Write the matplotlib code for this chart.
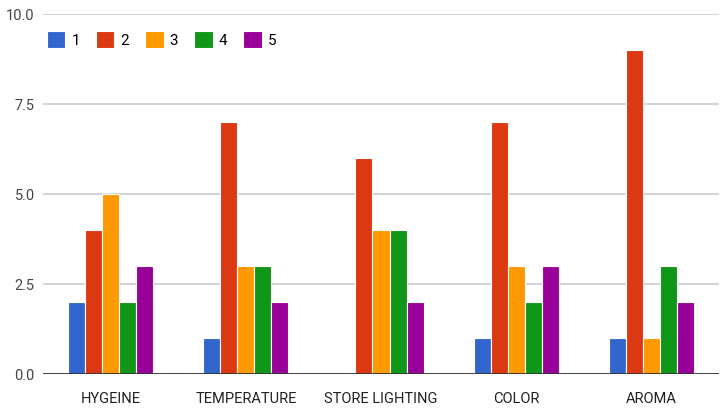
import matplotlib as mpl
import matplotlib.pyplot as plt
import numpy as np

mpl.use('Agg')
plt.rcParams['font.family'] = ['Liberation Sans Narrow', 'Roboto', 'DejaVu Sans']

categories = ["HYGEINE", "TEMPERATURE", "STORE LIGHTING", "COLOR", "AROMA"]
series_names = ["1", "2", "3", "4", "5"]
s1 = [2, 1, 0, 1, 1]
s2 = [4, 7, 6, 7, 9]
s3 = [5, 3, 4, 3, 1]
s4 = [2, 3, 4, 2, 3]
s5 = [3, 2, 2, 3, 2]
yticks = [0.0, 2.5, 5.0, 7.5, 10.0]

colors = ["#3366cc", "#dc3912", "#ff9900", "#109618", "#990099"]


def main():
    fig = plt.figure(figsize=(7.21, 4.14), dpi=100)
    ax = fig.add_axes([43 / 721, 39 / 414, 676 / 721, 360 / 414])

    x = np.arange(len(categories))
    step = 0.126
    for i, (vals, col) in enumerate(zip([s1, s2, s3, s4, s5], colors)):
        off = (i - 2) * step
        ax.bar(x + off, vals, width=step, color=col, edgecolor="white",
               linewidth=0.8, zorder=3, label=series_names[i])

    ax.set_xlim(-0.5, len(categories) - 0.5)
    ax.set_ylim(0, 10)
    ax.set_yticks(yticks)
    ax.set_yticklabels(["%.1f" % v for v in yticks], fontsize=10.5, color="#444444")
    ax.set_xticks(x)
    ax.set_xticklabels(categories, fontsize=10.5, color="#222222")
    ax.tick_params(axis="both", length=0)
    ax.tick_params(axis="x", pad=12)
    ax.tick_params(axis="y", pad=6)

    ax.grid(axis="y", color="#cccccc", linewidth=1.2, zorder=0)
    for s in ax.spines.values():
        s.set_visible(False)
    ax.axhline(0, color="#333333", linewidth=2, zorder=4)

    ax.legend(loc="upper left", bbox_to_anchor=(-0.003, 0.97), ncol=5, frameon=False,
              fontsize=11, handlelength=1.2, handleheight=1.3, handletextpad=0.4,
              columnspacing=1.05, borderaxespad=0)

    fig.savefig("out.png", dpi=100, facecolor="white")


if __name__ == '__main__':
    main()
